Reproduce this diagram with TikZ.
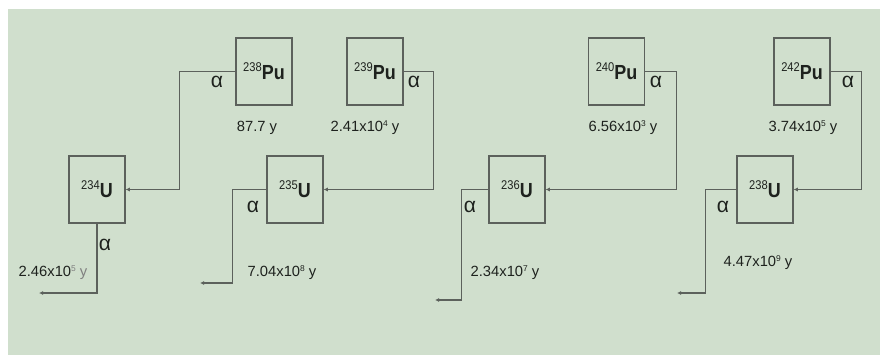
\documentclass[tikz,border=0pt]{standalone}
\usepackage{fontspec}
\setmainfont{Liberation Sans}
\usetikzlibrary{arrows.meta}
\definecolor{bggreen}{HTML}{D0DFCD}
\definecolor{lngray}{HTML}{5C615C}
\definecolor{txdark}{HTML}{1E221E}
\newcommand{\isot}[2]{\scalebox{0.88}[1]{\raisebox{5.5pt}{\fontsize{9}{9}\selectfont #1}\textbf{#2}}}
\newcommand{\hlife}[2]{#1x10\raisebox{3.5pt}{\fontsize{6}{6}\selectfont #2} y}

\begin{document}
\begin{tikzpicture}[x=0.025cm, y=-0.025cm,
    nuc/.style={draw=lngray, line width=0.9pt, minimum width=1.4cm, minimum height=1.675cm, inner sep=0pt, font=\fontsize{14.5}{14.5}\selectfont, text=txdark},
    arr/.style={draw=lngray, line width=0.9pt, -{Latex[length=3pt,width=3pt]}},
    alf/.style={font=\fontsize{15}{15}\selectfont, text=txdark, inner sep=0pt},
    hl/.style={font=\fontsize{10.5}{11}\selectfont, text=txdark, inner sep=0pt}
]
\useasboundingbox (0,0) rectangle (880,355);
\fill[bggreen] (8,9) rectangle (880,355);

% plutonium
\node[nuc] (pu238) at (264,71.5) {\isot{238}{Pu}};
\node[nuc] (pu239) at (375,71.5) {\isot{239}{Pu}};
\node[nuc] (pu240) at (616.5,71.5) {\isot{240}{Pu}};
\node[nuc] (pu242) at (802,71.5) {\isot{242}{Pu}};
% uranium
\node[nuc] (u234) at (97,189.5) {\isot{234}{U}};
\node[nuc] (u235) at (295,189.5) {\isot{235}{U}};
\node[nuc] (u236) at (517,189.5) {\isot{236}{U}};
\node[nuc] (u238) at (765,189.5) {\isot{238}{U}};

% half-lives
\node[hl] (t238) at (257,128) {87.7 y};
\node[hl] (t239) at (365,128) {\hlife{2.41}{4}};
\node[hl] (t240) at (623,128) {\hlife{6.56}{3}};
\node[hl] (t242) at (803,128) {\hlife{3.74}{5}};
\node[hl] (t234) at (53,273) {2.46x10\textcolor{gray}{\raisebox{3.5pt}{\fontsize{6}{6}\selectfont 5}\ y}};
\node[hl] (t235) at (282,273) {\hlife{7.04}{8}};
\node[hl] (t236) at (505,273) {\hlife{2.34}{7}};
\node[hl] (t2u8) at (758,263) {\hlife{4.47}{9}};

% alpha labels
\node[alf] (a238) at (217,82) {α};
\node[alf] (a239) at (414,82) {α};
\node[alf] (a240) at (656,82) {α};
\node[alf] (a242) at (848,82) {α};
\node[alf] (a234) at (105,245) {α};
\node[alf] (a235) at (253,207) {α};
\node[alf] (a236) at (470,207) {α};
\node[alf] (a2u8) at (723,207) {α};

% free ends
\coordinate (e234) at (39,293);
\coordinate (e235) at (200,283);
\coordinate (e236) at (435,300);
\coordinate (e238) at (677,293);

\draw[arr] (pu238.west) -- ++(-56,0) |- (u234.east);
\draw[arr] (pu239.east) -- ++(30,0) |- (u235.east);
\draw[arr] (pu240.east) -- ++(31,0) |- (u236.east);
\draw[arr] (pu242.east) -- ++(31,0) |- (u238.east);
\draw[arr] (u234.south) |- (e234);
\draw[arr] (u235.west) -- ++(-34,0) |- (e235);
\draw[arr] (u236.west) -- ++(-27,0) |- (e236);
\draw[arr] (u238.west) -- ++(-31,0) |- (e238);
\end{tikzpicture}
\end{document}
